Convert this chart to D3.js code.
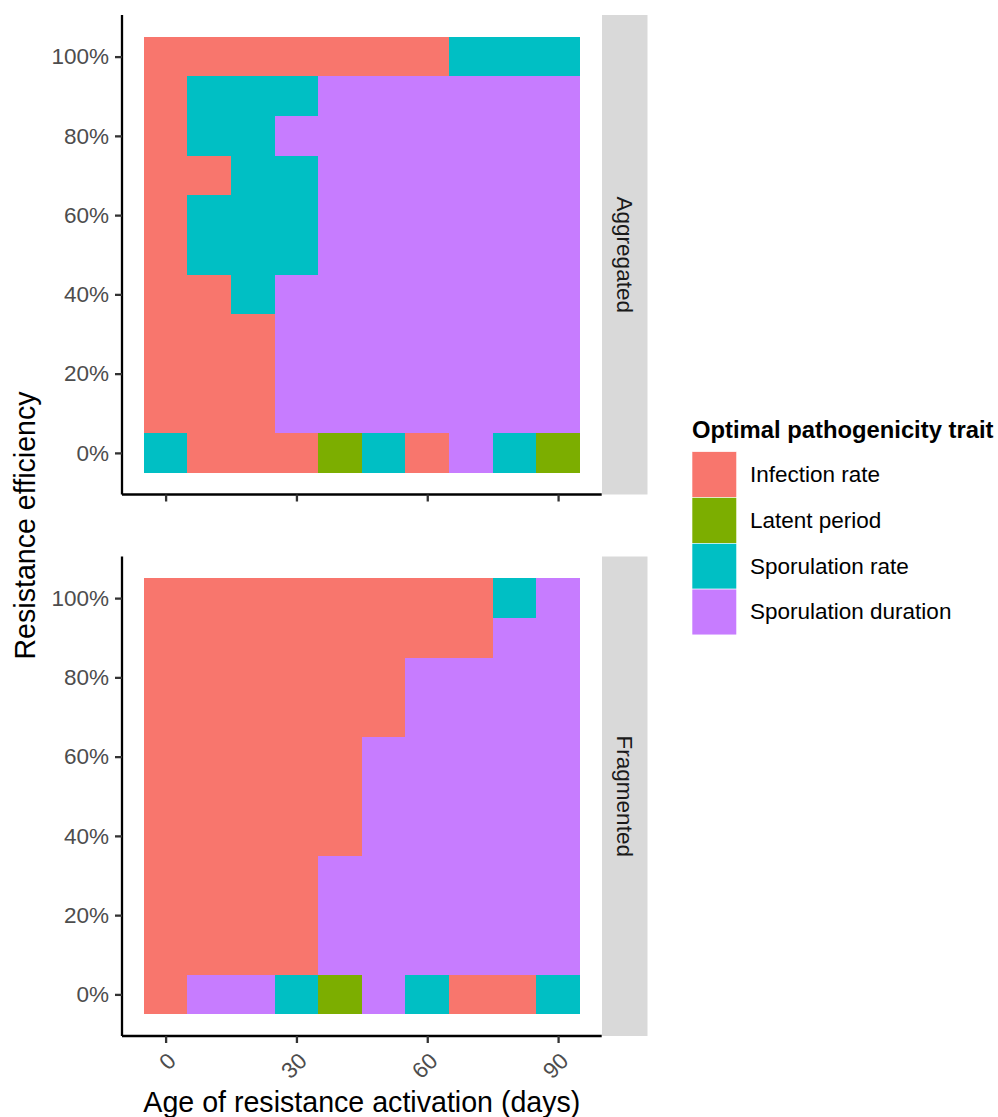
<!DOCTYPE html>
<html>
<head>
<meta charset="utf-8">
<script src="https://cdn.jsdelivr.net/npm/d3@7"></script>
<style>
  html, body { margin: 0; padding: 0; background: #fff; }
  svg { display: block; font-family: "Liberation Sans", Arial, Helvetica, sans-serif; }
</style>
</head>
<body>
<svg id="chart" width="998" height="1117"></svg>
<script>
// ---------------- data ----------------
const traitCodes = ["IR", "LP", "SR", "SD"];
const traitNames = ["Infection rate", "Latent period", "Sporulation rate", "Sporulation duration"];
const traitColors = ["#F8766D", "#7CAE00", "#00BFC4", "#C77CFF"];

const ages = [0, 10, 20, 30, 40, 50, 60, 70, 80, 90];            // days
const efficiencies = [1.0, 0.9, 0.8, 0.7, 0.6, 0.5, 0.4, 0.3, 0.2, 0.1, 0.0]; // rows, top to bottom

const xTickValues = [0, 30, 60, 90];
const yTickValues = [0, 0.2, 0.4, 0.6, 0.8, 1.0];

const facets = ["Aggregated", "Fragmented"];

// optimal trait per (efficiency row, age column)
const aggregated = [
  ["IR","IR","IR","IR","IR","IR","IR","SR","SR","SR"],
  ["IR","SR","SR","SR","SD","SD","SD","SD","SD","SD"],
  ["IR","SR","SR","SD","SD","SD","SD","SD","SD","SD"],
  ["IR","IR","SR","SR","SD","SD","SD","SD","SD","SD"],
  ["IR","SR","SR","SR","SD","SD","SD","SD","SD","SD"],
  ["IR","SR","SR","SR","SD","SD","SD","SD","SD","SD"],
  ["IR","IR","SR","SD","SD","SD","SD","SD","SD","SD"],
  ["IR","IR","IR","SD","SD","SD","SD","SD","SD","SD"],
  ["IR","IR","IR","SD","SD","SD","SD","SD","SD","SD"],
  ["IR","IR","IR","SD","SD","SD","SD","SD","SD","SD"],
  ["SR","IR","IR","IR","LP","SR","IR","SD","SR","LP"]
];
const fragmented = [
  ["IR","IR","IR","IR","IR","IR","IR","IR","SR","SD"],
  ["IR","IR","IR","IR","IR","IR","IR","IR","SD","SD"],
  ["IR","IR","IR","IR","IR","IR","SD","SD","SD","SD"],
  ["IR","IR","IR","IR","IR","IR","SD","SD","SD","SD"],
  ["IR","IR","IR","IR","IR","SD","SD","SD","SD","SD"],
  ["IR","IR","IR","IR","IR","SD","SD","SD","SD","SD"],
  ["IR","IR","IR","IR","IR","SD","SD","SD","SD","SD"],
  ["IR","IR","IR","IR","SD","SD","SD","SD","SD","SD"],
  ["IR","IR","IR","IR","SD","SD","SD","SD","SD","SD"],
  ["IR","IR","IR","IR","SD","SD","SD","SD","SD","SD"],
  ["IR","SD","SD","SR","LP","SD","SR","IR","IR","SR"]
];
const facetGrids = [aggregated, fragmented];

// ---------------- layout ----------------
const svg = d3.select("#chart");
const panelX0 = 122, panelX1 = 601.7;
const panelTops = [15, 556.5];
const panelH = 479.5;
const stripW = 45.5;
const fontAxis = 22.5, fontTitle = 28.6;

const x = d3.scaleLinear().domain([-10, 100]).range([panelX0, panelX1]);
const color = d3.scaleOrdinal().domain(traitCodes).range(traitColors);
const nameOf = d3.scaleOrdinal().domain(traitCodes).range(traitNames);

facets.forEach((facet, fi) => {
  const top = panelTops[fi];
  const y = d3.scaleLinear().domain([-0.105, 1.105]).range([top + panelH, top]);
  const g = svg.append("g");

  // tiles
  const cells = [];
  facetGrids[fi].forEach((row, ri) => row.forEach((code, ci) => {
    cells.push({ age: ages[ci], eff: efficiencies[ri], code });
  }));
  g.selectAll("rect.tile").data(cells).join("rect")
    .attr("class", "tile")
    .attr("shape-rendering", "crispEdges")
    .attr("x", d => Math.round(x(d.age - 5)))
    .attr("y", d => Math.round(y(d.eff + 0.05)))
    .attr("width", d => Math.round(x(d.age + 5)) - Math.round(x(d.age - 5)))
    .attr("height", d => Math.round(y(d.eff - 0.05)) - Math.round(y(d.eff + 0.05)))
    .attr("fill", d => color(d.code));

  // y axis
  const yAxis = d3.axisLeft(y).tickValues(yTickValues)
    .tickFormat(d3.format(".0%")).tickSize(7).tickPadding(6);
  const ya = g.append("g").attr("transform", `translate(${panelX0},0)`).call(yAxis);
  ya.select(".domain").attr("stroke", "#000").attr("stroke-width", 2.3)
    .attr("d", `M0,${top}V${top + panelH}`);
  ya.selectAll(".tick line").attr("stroke", "#333").attr("stroke-width", 2.3);
  ya.selectAll(".tick text").attr("fill", "#4D4D4D")
    .style("font-size", fontAxis + "px").style("font-family", "Liberation Sans, Arial, sans-serif");

  // x axis
  const xAxis = d3.axisBottom(x).tickValues(xTickValues).tickSize(7).tickFormat(d => d);
  const xa = g.append("g").attr("transform", `translate(0,${top + panelH})`).call(xAxis);
  xa.select(".domain").attr("stroke", "#000").attr("stroke-width", 2.3)
    .attr("d", `M${panelX0},0H${panelX1}`);
  xa.selectAll(".tick line").attr("stroke", "#333").attr("stroke-width", 2.3);
  if (fi === facets.length - 1) {
    xa.selectAll(".tick text")
      .attr("fill", "#4D4D4D")
      .style("font-size", fontAxis + "px").style("font-family", "Liberation Sans, Arial, sans-serif")
      .attr("text-anchor", "end")
      .attr("dy", null).attr("y", null)
      .attr("dominant-baseline", "central")
      .attr("transform", "translate(6,21) rotate(-45)");
  } else {
    xa.selectAll(".tick text").remove();
  }

  // strip
  g.append("rect")
    .attr("x", panelX1 + 0.3).attr("y", top)
    .attr("width", stripW).attr("height", panelH)
    .attr("fill", "#D9D9D9");
  g.append("text")
    .attr("transform", `translate(${panelX1 + 0.3 + stripW / 2},${top + panelH / 2}) rotate(90)`)
    .attr("text-anchor", "middle").attr("dominant-baseline", "central")
    .attr("fill", "#1A1A1A").style("font-size", fontAxis + "px")
    .text(facet);
});

// axis titles
svg.append("text")
  .attr("x", (panelX0 + panelX1) / 2).attr("y", 1112)
  .attr("text-anchor", "middle").attr("fill", "#000")
  .style("font-size", fontTitle + "px")
  .text("Age of resistance activation (days)");
svg.append("text")
  .attr("transform", `translate(35,${(panelTops[0] + panelTops[1] + panelH) / 2}) rotate(-90)`)
  .attr("text-anchor", "middle").attr("fill", "#000")
  .style("font-size", fontTitle + "px")
  .text("Resistance efficiency");

// legend
const lg = svg.append("g").attr("transform", "translate(692,0)");
lg.append("text").attr("x", 0).attr("y", 438)
  .attr("fill", "#000").style("font-size", "23.8px").style("font-weight", "bold")
  .text("Optimal pathogenicity trait");
const keyH = 45.8, keyW = 44.7, keyTop = 451.7;
const items = lg.selectAll("g.item").data(traitCodes).join("g")
  .attr("class", "item")
  .attr("transform", (d, i) => `translate(0,${keyTop + i * keyH})`);
items.append("rect").attr("width", keyW).attr("height", keyH)
  .attr("fill", d => color(d)).attr("stroke", "#fff").attr("stroke-width", 0.6);
items.append("text").attr("x", 58).attr("y", keyH / 2)
  .attr("dominant-baseline", "central").attr("fill", "#000")
  .style("font-size", fontAxis + "px")
  .text(d => nameOf(d));
</script>
</body>
</html>
